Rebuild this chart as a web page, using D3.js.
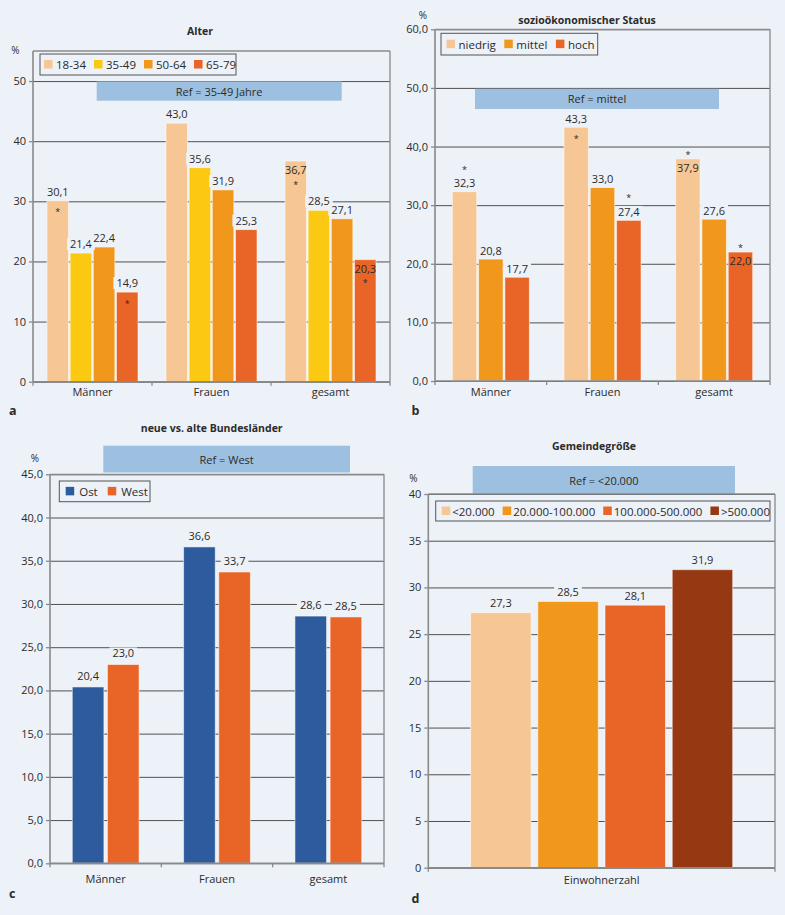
<!DOCTYPE html>
<html><head><meta charset="utf-8">
<script src="https://cdn.jsdelivr.net/npm/d3@7"></script>
<style>
body{margin:0;background:#edf1f8;}
svg{display:block;font-family:"Open Sans",sans-serif;}
</style></head><body>
<svg id="chart" width="785" height="915"></svg>
<script>
// ---------- DATA ----------
const groupCategories = ["Männer", "Frauen", "gesamt"];

const ageSeries = ["18-34", "35-49", "50-64", "65-79"];
const ageValues = [[30.1, 21.4, 22.4, 14.9], [43.0, 35.6, 31.9, 25.3], [36.7, 28.5, 27.1, 20.3]];
const ageStars = [["in", null, null, "in"], [null, null, null, null], ["in", null, null, "in"]];
const ageLabelInside = [[0, 0, 0, 0], [0, 0, 0, 0], [1, 0, 0, 1]];
const ageTicks = [0, 10, 20, 30, 40, 50];

const statusSeries = ["niedrig", "mittel", "hoch"];
const statusValues = [[32.3, 20.8, 17.7], [43.3, 33.0, 27.4], [37.9, 27.6, 22.0]];
const statusStars = [["above", null, null], ["in", null, "above"], ["above", null, "above"]];
const statusLabelInside = [[0, 0, 0], [0, 0, 0], [1, 0, 1]];
const statusTicks = [0, 10, 20, 30, 40, 50, 60];

const regionSeries = ["Ost", "West"];
const regionValues = [[20.4, 23.0], [36.6, 33.7], [28.6, 28.5]];
const regionTicks = [0, 5, 10, 15, 20, 25, 30, 35, 40, 45];

const sizeCategories = ["Einwohnerzahl"];
const sizeSeries = ["<20.000", "20.000-100.000", "100.000-500.000", ">500.000"];
const sizeValues = [[27.3, 28.5, 28.1, 31.9]];
const sizeTicks = [0, 5, 10, 15, 20, 25, 30, 35, 40];

// ---------- STYLE ----------
const C = {peach:"#f6c794", yellow:"#fbc912", orange:"#f0971c", red:"#e86527", brown:"#963812", blue:"#2d5b9d"};
const BG = "#edf1f8", REF = "#9dc0e0", GRID = "#505050", FRAME = "#8a8a8a", TXT = "#2b2b2b";
const de = d3.formatLocale({decimal: ",", thousands: ".", grouping: [3], currency: ["", "€"]});
const f1 = de.format(".1f"), f0 = de.format("d");

const svg = d3.select("#chart");
svg.append("rect").attr("width", 785).attr("height", 915).attr("fill", BG);

function drawPanel(p) {
  const g = svg.append("g");
  const {l, t, r, b} = p.plot;
  const y = d3.scaleLinear().domain([0, p.yMax]).range([b, t]);
  const x0 = d3.scaleBand().domain(p.categories).range([l, r]);
  const gw = x0.bandwidth() * p.groupFrac;
  const x1 = d3.scaleBand().domain(p.series).range([0, gw]).paddingInner(p.innerPad);

  // title
  g.append("text").attr("x", p.title.x).attr("y", p.title.y).attr("text-anchor", "middle")
    .attr("dominant-baseline", "central").attr("font-size", 10.5).attr("font-weight", "bold")
    .attr("fill", TXT).text(p.title.text);
  // percent sign
  g.append("text").attr("x", p.pct.x).attr("y", p.pct.y).attr("text-anchor", "middle")
    .attr("dominant-baseline", "central").attr("font-size", 10).attr("fill", TXT).text("%");
  // panel letter
  g.append("text").attr("x", p.letter.x).attr("y", p.letter.y).attr("dominant-baseline", "central")
    .attr("font-size", 12.5).attr("font-weight", "bold").attr("fill", TXT).text(p.letter.text);

  // grid lines
  const grid = g.append("g").attr("transform", `translate(${l},0)`)
    .call(d3.axisLeft(y).tickValues(p.ticks).tickSize(-(r - l)).tickFormat(""));
  grid.select(".domain").remove();
  grid.selectAll("line").attr("stroke", GRID).attr("stroke-width", 1);

  // reference box
  g.append("rect").attr("x", p.ref.x0).attr("y", p.ref.y0)
    .attr("width", p.ref.x1 - p.ref.x0).attr("height", p.ref.y1 - p.ref.y0).attr("fill", REF);
  g.append("text").attr("x", (p.ref.x0 + p.ref.x1) / 2).attr("y", (p.ref.y0 + p.ref.y1) / 2)
    .attr("text-anchor", "middle").attr("dominant-baseline", "central").attr("font-size", 11)
    .attr("fill", TXT).text(p.ref.text);

  // frame
  g.append("line").attr("x1", l).attr("x2", r).attr("y1", t).attr("y2", t).attr("stroke", FRAME).attr("stroke-width", 1.3);
  g.append("line").attr("x1", r).attr("x2", r).attr("y1", t).attr("y2", b).attr("stroke", FRAME).attr("stroke-width", 1.3);

  // bars
  const data = [];
  p.categories.forEach((c, i) => p.series.forEach((s, j) => data.push({
    c, s, i, j, v: p.values[i][j],
    star: p.stars ? p.stars[i][j] : null,
    inside: p.inside ? p.inside[i][j] : 0
  })));
  const bx = d => x0(d.c) + (x0.bandwidth() - gw) / 2 + x1(d.s);
  g.append("g").selectAll("rect").data(data).join("rect")
    .attr("x", bx).attr("y", d => y(d.v)).attr("width", x1.bandwidth())
    .attr("height", d => y(0) - y(d.v)).attr("fill", d => p.colors[d.j])
    .attr("stroke", "#ffffff").attr("stroke-opacity", 0.55).attr("stroke-width", 1);

  // axes
  const ya = g.append("g").attr("transform", `translate(${l},0)`)
    .call(d3.axisLeft(y).tickValues(p.ticks).tickSize(4).tickPadding(3).tickFormat(p.fmt));
  ya.select(".domain").attr("stroke", FRAME).attr("stroke-width", 1.6).attr("d", `M0,${b}V${t}`);
  ya.selectAll(".tick line").attr("stroke", FRAME).attr("stroke-width", 1.3);
  ya.selectAll("text").attr("font-size", 11).attr("fill", TXT).attr("font-family", "Open Sans");

  const xa = g.append("g").attr("transform", `translate(0,${b})`)
    .call(d3.axisBottom(x0).tickSize(0).tickFormat(""));
  xa.select(".domain").attr("stroke", FRAME).attr("stroke-width", 1.6).attr("d", `M${l},0H${r}`);
  xa.selectAll(".tick").remove();
  const bounds = x0.domain().map(c => x0(c)).concat([r]);
  g.append("g").selectAll("line").data(bounds).join("line")
    .attr("x1", d => d).attr("x2", d => d).attr("y1", b).attr("y2", b + 4)
    .attr("stroke", FRAME).attr("stroke-width", 1.3);
  g.append("g").selectAll("text").data(p.categories).join("text")
    .attr("x", c => x0(c) + x0.bandwidth() / 2).attr("y", b + p.xLabelDy)
    .attr("text-anchor", "middle").attr("dominant-baseline", "central")
    .attr("font-size", 11).attr("fill", TXT).text(c => c);

  // value labels (label and its significance star share one text element)
  const lab = g.append("g");
  data.forEach(d => {
    const cx = bx(d) + x1.bandwidth() / 2;
    const top = y(d.v);
    const ly = d.inside ? top + 9 : top - p.labelGap;
    const txt = lab.append("text").attr("text-anchor", "middle").attr("fill", TXT).attr("font-size", 11);
    const val = txt.append("tspan").attr("x", cx).attr("y", ly + 4).text(f1(d.v));
    if (!d.inside) {
      const w = val.node().getComputedTextLength();
      lab.insert("rect", () => txt.node()).attr("x", cx - w / 2 - 3).attr("y", ly - 6)
        .attr("width", w + 6).attr("height", 12).attr("fill", BG);
    }
    if (d.star) {
      // baseline of the asterisk glyph
      let sb;
      if (d.star === "in") sb = d.inside ? top + 26.5 : top + 14.5;
      else sb = d.inside ? top - 1 : ly - 10.5;
      txt.append("tspan").attr("x", cx).attr("y", sb).attr("font-size", 9).text("*");
    }
  });

  // legend
  const L = p.legend;
  const lg = g.append("g");
  lg.append("rect").attr("x", L.x0).attr("y", L.y0).attr("width", L.x1 - L.x0).attr("height", L.y1 - L.y0)
    .attr("fill", BG).attr("stroke", "#555").attr("stroke-width", 1);
  let cx = L.x0 + L.pad;
  const cy = (L.y0 + L.y1) / 2;
  p.series.forEach((s, j) => {
    lg.append("rect").attr("x", cx).attr("y", cy - 4.5).attr("width", 8.5).attr("height", 8.5).attr("fill", p.colors[j]);
    const tx = lg.append("text").attr("x", cx + L.off).attr("y", cy).attr("dominant-baseline", "central")
      .attr("font-size", 11.5).attr("fill", TXT).text(s);
    cx += L.off + tx.node().getComputedTextLength() + L.gap;
  });
}

drawPanel({
  title: {text: "Alter", x: 200, y: 31}, pct: {x: 15.5, y: 50}, letter: {text: "a", x: 9, y: 410},
  categories: groupCategories, series: ageSeries, values: ageValues, stars: ageStars, inside: ageLabelInside,
  colors: [C.peach, C.yellow, C.orange, C.red],
  plot: {l: 33, t: 51, r: 390, b: 381.7}, yMax: 55, ticks: ageTicks, fmt: f0,
  groupFrac: 0.765, innerPad: 0.07, labelGap: 9, xLabelDy: 10,
  ref: {text: "Ref = 35-49 Jahre", x0: 96.7, x1: 341.7, y0: 81.5, y1: 100.7},
  legend: {x0: 40, x1: 236, y0: 54, y1: 75, pad: 4, off: 12, gap: 8}
});

drawPanel({
  title: {text: "sozioökonomischer Status", x: 587, y: 20}, pct: {x: 423, y: 15}, letter: {text: "b", x: 411.5, y: 410},
  categories: groupCategories, series: statusSeries, values: statusValues, stars: statusStars, inside: statusLabelInside,
  colors: [C.peach, C.orange, C.red],
  plot: {l: 435, t: 29.3, r: 770, b: 381}, yMax: 60, ticks: statusTicks, fmt: f1,
  groupFrac: 0.69, innerPad: 0.07, labelGap: 8.5, xLabelDy: 10,
  ref: {text: "Ref = mittel", x0: 475, x1: 719, y0: 88.8, y1: 109},
  legend: {x0: 441, x1: 597.7, y0: 33.3, y1: 55, pad: 5.5, off: 12, gap: 8.5}
});

drawPanel({
  title: {text: "neue vs. alte Bundesländer", x: 211.7, y: 428.3}, pct: {x: 35, y: 457.7}, letter: {text: "c", x: 9, y: 893},
  categories: groupCategories, series: regionSeries, values: regionValues, stars: null, inside: null,
  colors: [C.blue, C.red],
  plot: {l: 50, t: 474.3, r: 384, b: 863.3}, yMax: 45, ticks: regionTicks, fmt: f1,
  groupFrac: 0.60, innerPad: 0.1, labelGap: 11, xLabelDy: 15.5,
  ref: {text: "Ref = West", x0: 103.3, x1: 350, y0: 445.7, y1: 472.5},
  legend: {x0: 59.3, x1: 150, y0: 481, y1: 501.7, pad: 6.4, off: 13.5, gap: 10}
});

drawPanel({
  title: {text: "Gemeindegröße", x: 594, y: 445.7}, pct: {x: 413.3, y: 478.3}, letter: {text: "d", x: 411.5, y: 898},
  categories: sizeCategories, series: sizeSeries, values: sizeValues, stars: null, inside: null,
  colors: [C.peach, C.orange, C.red, C.brown],
  plot: {l: 428.3, t: 494, r: 775, b: 867.7}, yMax: 40, ticks: sizeTicks, fmt: f0,
  groupFrac: 0.756, innerPad: 0.1, labelGap: 9.5, xLabelDy: 11.5,
  ref: {text: "Ref = <20.000", x0: 472.7, x1: 735, y0: 466, y1: 494},
  legend: {x0: 435.7, x1: 770, y0: 501, y1: 521, pad: 6, off: 10.5, gap: 8}
});
</script>
</body></html>
